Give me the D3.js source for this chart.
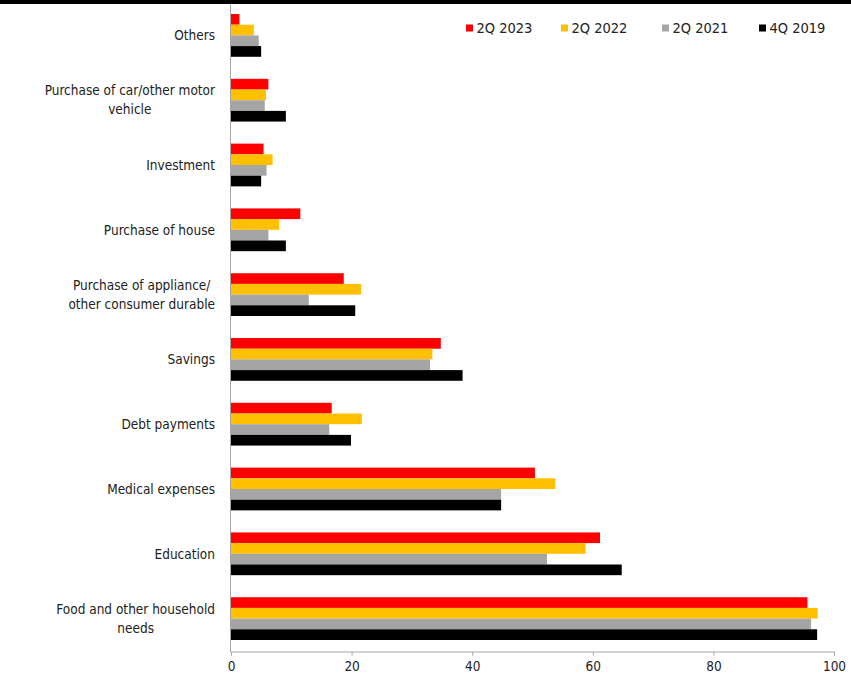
<!DOCTYPE html>
<html>
<head>
<meta charset="utf-8">
<script src="https://cdn.jsdelivr.net/npm/d3@7/dist/d3.min.js"></script>
<style>
  html, body { margin: 0; padding: 0; background: #fff; }
  svg { display: block; }
  text { font-family: "DejaVu Sans Condensed", "DejaVu Sans", sans-serif; font-stretch: condensed; }
</style>
</head>
<body>
<svg id="chart" width="851" height="688"></svg>
<script>
const categories = [
  "Others",
  "Purchase of car/other motor vehicle",
  "Investment",
  "Purchase of house",
  "Purchase of appliance/ other consumer durable",
  "Savings",
  "Debt payments",
  "Medical expenses",
  "Education",
  "Food and other household needs"
];
const categoryLines = [
  ["Others"],
  ["Purchase of car/other motor", "vehicle"],
  ["Investment"],
  ["Purchase of house"],
  ["Purchase of appliance/", "other consumer durable"],
  ["Savings"],
  ["Debt payments"],
  ["Medical expenses"],
  ["Education"],
  ["Food and other household", "needs"]
];
const seriesNames = ["2Q 2023", "2Q 2022", "2Q 2021", "4Q 2019"];
const seriesColors = ["#FF0000", "#FFC000", "#A5A5A5", "#000000"];
const values2Q2023 = [1.4, 6.2, 5.4, 11.5, 18.7, 34.8, 16.7, 50.4, 61.2, 95.6];
const values2Q2022 = [3.8, 5.8, 6.9, 8.0, 21.6, 33.4, 21.7, 53.8, 58.8, 97.3];
const values2Q2021 = [4.6, 5.6, 5.9, 6.2, 12.9, 33.0, 16.3, 44.8, 52.4, 96.2];
const values4Q2019 = [5.0, 9.1, 5.0, 9.1, 20.6, 38.4, 19.9, 44.8, 64.8, 97.2];
const seriesValues = [values2Q2023, values2Q2022, values2Q2021, values4Q2019];
const xTicks = [0, 20, 40, 60, 80, 100];

const svg = d3.select("#chart");
const x = d3.scaleLinear().domain([0, 100]).range([231, 834]);
const y = d3.scaleBand().domain(categories).range([3, 651]).paddingInner(0.34).paddingOuter(0.17);
const ys = d3.scaleBand().domain(seriesNames).range([0, y.bandwidth()]);

// top black rule
svg.append("rect").attr("x", 0).attr("y", 0).attr("width", 851).attr("height", 4).attr("fill", "#000");

// bars
categories.forEach((c, i) => {
  const g = svg.append("g").attr("transform", `translate(0,${y(c)})`);
  seriesNames.forEach((s, j) => {
    g.append("rect")
      .attr("x", x(0))
      .attr("y", ys(s))
      .attr("width", x(seriesValues[j][i]) - x(0))
      .attr("height", ys.bandwidth())
      .attr("fill", seriesColors[j]);
  });
});

// x axis
const xAxis = svg.append("g").attr("transform", "translate(0,651.5)")
  .call(d3.axisBottom(x).tickValues(xTicks).tickSize(4).tickSizeOuter(4));
xAxis.select(".domain").attr("stroke", "#a6a6a6");
xAxis.selectAll(".tick line").attr("stroke", "#a6a6a6");
xAxis.selectAll(".tick text").attr("font-size", 13.5).attr("fill", "#222").attr("dy", "0.95em")
  .style("font-family", '"DejaVu Sans Condensed", "DejaVu Sans", sans-serif');

// y axis line
svg.append("line").attr("x1", x(0) - 0.5).attr("x2", x(0) - 0.5).attr("y1", 4).attr("y2", 652)
  .attr("stroke", "#a6a6a6");

// category labels (lines centred within a right-aligned block)
categories.forEach((c, i) => {
  const lines = categoryLines[i];
  const cy = y(c) + y.bandwidth() / 2;
  const lh = 19;
  const t = svg.append("text").attr("text-anchor", "middle").attr("font-size", 13.5).attr("fill", "#222");
  const spans = lines.map((ln, k) => t.append("tspan")
      .attr("y", cy + (k - (lines.length - 1) / 2) * lh)
      .attr("dy", "0.35em").text(ln));
  const maxW = d3.max(spans, sp => sp.node().getComputedTextLength());
  spans.forEach(sp => sp.attr("x", 215 - maxW / 2));
});

// legend
const legendX = [466, 561, 662, 759];
seriesNames.forEach((s, j) => {
  const lg = svg.append("g").attr("transform", `translate(${legendX[j]},28)`);
  lg.append("rect").attr("x", 0).attr("y", -3.5).attr("width", 7).attr("height", 7).attr("fill", seriesColors[j]);
  lg.append("text").attr("x", 10.5).attr("y", 0).attr("dy", "0.35em").attr("font-size", 14.5).attr("fill", "#222").text(s);
});
</script>
</body>
</html>
